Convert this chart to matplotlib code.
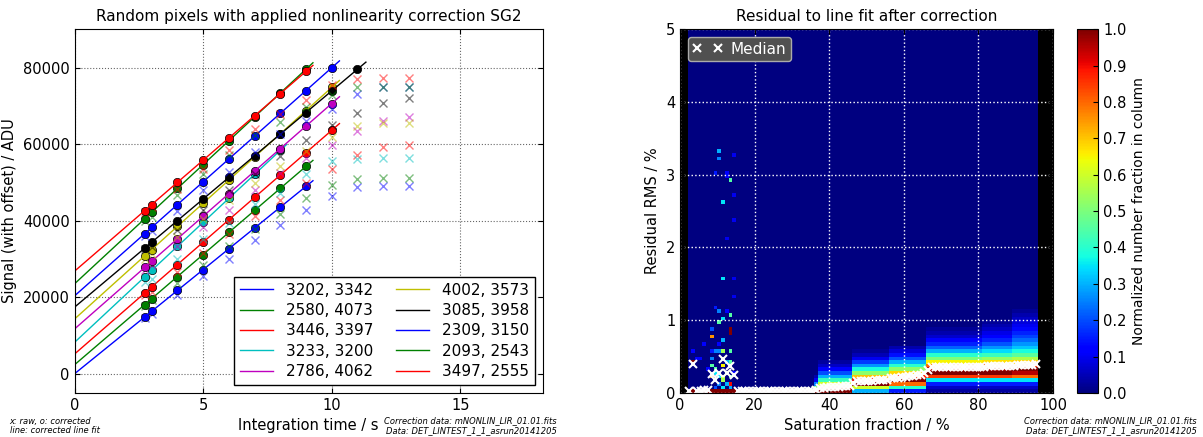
import numpy as np
import matplotlib
matplotlib.use('Agg')
import matplotlib.pyplot as plt

# ---------------- left panel: random pixels ----------------
times = [2.73, 3.0, 4, 5, 6, 7, 8, 9, 10, 11, 12, 13]
pixel_labels = ['3202, 3342', '2580, 4073', '3446, 3397', '3233, 3200', '2786, 4062',
                '4002, 3573', '3085, 3958', '2309, 3150', '2093, 2543', '3497, 2555']
pixel_colors = [(0, 0, 1), (0, 0.5, 0), (1, 0, 0), (0, 0.75, 0.75), (0.75, 0, 0.75),
                (0.75, 0.75, 0), (0, 0, 0), (0, 0, 1), (0, 0.5, 0), (1, 0, 0)]

# line fit of the corrected signal: offset and slope (ADU, ADU/s)
fit_offset = [0, 2350, 5150, 8200, 11700, 14300, 17400, 20350, 23500, 26800]
fit_slope = [5440, 5760, 5845, 6270, 5890, 6050, 5650, 5960, 6230, 5800]

corrected = [
    [14850, 16320, 21760, 27200, 32640, 38080, 43520, 48960],
    [18070, 19630, 25390, 31150, 36910, 42670, 48430, 54190],
    [21110, 22690, 28530, 34380, 40220, 46070, 51910, 57760, 63600],
    [25320, 27010, 33280, 39550, 45820, 52090, 58360],
    [27780, 29370, 35260, 41150, 47040, 52930, 58820, 64710, 70600],
    [30820, 32450, 38500, 44550, 50600, 56650, 62700, 68750, 74800],
    [32820, 34350, 40000, 45650, 51300, 56950, 62600, 68250, 73900, 79550],
    [36620, 38230, 44190, 50150, 56110, 62070, 68030, 73990, 79950],
    [40510, 42190, 48420, 54650, 60880, 67110, 73340, 79570],
    [42630, 44200, 50000, 55800, 61600, 67400, 73200, 79000],
]

raw = [
    [14600, 15700, 20650, 25450, 30070, 34860, 38780, 42880, 46360, 48800, 48980, 48980],
    [17700, 19200, 23800, 28300, 33500, 37700, 41800, 45800, 49400, 50950, 51060, 51060],
    [20480, 21350, 26580, 31630, 36600, 41130, 45490, 49850, 53510, 57050, 59200, 59800],
    [23960, 24840, 29890, 35290, 39390, 44440, 47230, 52200, 55600, 56150, 56290, 56290],
    [27020, 28300, 33290, 38340, 42880, 47930, 52500, 56400, 59870, 63500, 66100, 67010],
    [30060, 31200, 35730, 40520, 45300, 49850, 54200, 58200, 61780, 64850, 65500, 65550],
    [32500, 33100, 37470, 42700, 47930, 52290, 56910, 61170, 65000, 68100, 70770, 71980],
    [36000, 37300, 42530, 47930, 52720, 57950, 62750, 66140, 69300, 73100, 75000, 75000],
    [40000, 41000, 46620, 52290, 57080, 62310, 65800, 69800, 72800, 74900, 75000, 75000],
    [42200, 43500, 48370, 53590, 58390, 64050, 67800, 71500, 75550, 77100, 77300, 77300],
]

# ---------------- right panel: residual histogram ----------------
sat_bins = np.arange(0, 101, 1)        # saturation fraction / %
rms_bins = np.arange(0, 5.0001, 0.05)  # residual RMS / %

# column-normalised profiles (rows of 0.05 %) read per saturation range
profile_cols = [(2, 36), (36, 37), (37, 46), (46, 56), (56, 66), (66, 81), (81, 89), (89, 96)]
profiles = [
    [1.0],
    [1.0, 0.5, 0.25, 0.1, 0.04],
    [1.0, 0.85, 0.6, 0.42, 0.3, 0.2, 0.12, 0.06, 0.03],
    [0.3, 0.6, 1.0, 0.9, 0.7, 0.52, 0.38, 0.27, 0.18, 0.1, 0.05, 0.02],
    [0.15, 0.4, 0.8, 1.0, 0.88, 0.68, 0.52, 0.4, 0.3, 0.21, 0.14, 0.08, 0.04],
    [0.03, 0.06, 0.15, 0.35, 0.85, 1.0, 0.95, 0.8, 0.65, 0.5, 0.4, 0.3, 0.22, 0.16, 0.11,
     0.07, 0.04, 0.02],
    [0.03, 0.06, 0.15, 0.35, 0.85, 1.0, 0.97, 0.82, 0.67, 0.53, 0.42, 0.34, 0.27, 0.21, 0.16,
     0.12, 0.09, 0.06, 0.04, 0.02],
    [0.03, 0.06, 0.15, 0.35, 0.8, 0.95, 1.0, 0.85, 0.68, 0.56, 0.46, 0.38, 0.32, 0.27, 0.23,
     0.19, 0.16, 0.13, 0.1, 0.08, 0.06, 0.04, 0.02],
]

# isolated cells at low saturation: (column, row, value)
scatter_cells = [
    (10, 66, 0.3), (10, 64, 0.25), (14, 65, 0.1), (9, 60, 0.15), (12, 60, 0.12), (12, 59, 0.12),
    (13, 58, 0.45), (14, 54, 0.1), (11, 52, 0.35), (14, 47, 0.1), (12, 42, 0.1), (11, 31, 0.35),
    (14, 31, 0.1), (14, 26, 0.1), (9, 23, 0.15), (10, 22, 0.25), (12, 22, 0.12), (13, 21, 0.45),
    (11, 20, 0.35), (10, 19, 0.45), (13, 17, 1.0), (13, 16, 1.0), (8, 17, 0.2), (8, 15, 0.75),
    (11, 14, 0.3), (6, 13, 0.12), (10, 13, 0.12), (3, 11, 0.12), (8, 11, 0.15), (9, 11, 0.25),
    (10, 11, 0.25), (11, 11, 0.55), (13, 11, 0.45), (4, 9, 0.12), (5, 9, 0.12), (8, 9, 0.25),
    (3, 8, 1.0), (11, 7, 0.65), (8, 7, 0.45), (9, 6, 0.45), (7, 6, 0.12), (12, 8, 0.3),
    (13, 8, 0.45), (13, 7, 0.3), (8, 4, 0.75), (9, 5, 0.35), (10, 4, 0.35), (11, 4, 0.6),
    (12, 5, 0.3), (13, 4, 0.45), (14, 5, 0.12), (9, 3, 0.3), (10, 2, 0.25), (11, 3, 0.55),
    (13, 2, 0.9), (12, 2, 0.3), (9, 1, 0.2), (11, 1, 0.35), (13, 1, 0.3),
]

median_cols = np.arange(2, 96)
median_rms = [
    0.02, 0.40, 0.02, 0.03, 0.04, 0.04, 0.26, 0.18, 0.27, 0.46, 0.28, 0.37, 0.25,
    0.02, 0.02, 0.02, 0.02, 0.02, 0.02, 0.02, 0.02, 0.02, 0.02, 0.02, 0.02, 0.02,
    0.02, 0.02, 0.02, 0.02, 0.02, 0.02, 0.02, 0.02,
    0.04,
    0.07, 0.07, 0.08, 0.08, 0.08, 0.08, 0.09, 0.09, 0.09,
    0.13,
    0.17, 0.17, 0.17, 0.17, 0.17, 0.18, 0.18, 0.18, 0.18,
    0.20, 0.21, 0.21, 0.22, 0.22, 0.23, 0.23, 0.24,
    0.25, 0.28, 0.32, 0.35,
    0.35, 0.35, 0.36, 0.36, 0.36, 0.36, 0.36, 0.36, 0.36, 0.36, 0.36, 0.36, 0.36, 0.36,
    0.37, 0.37, 0.37, 0.37, 0.37, 0.37, 0.37, 0.37, 0.38, 0.38, 0.38, 0.38, 0.39, 0.40,
]

# ---------------- figure ----------------
fig = plt.figure(figsize=(12.03, 4.37), dpi=100)
ax1 = fig.add_axes([0.062, 0.101, 0.389, 0.832])
ax2 = fig.add_axes([0.5653, 0.101, 0.310, 0.832])
cax = fig.add_axes([0.8953, 0.101, 0.0175, 0.832])

for i in range(len(pixel_labels)):
    col = pixel_colors[i]
    ax1.plot(times, raw[i], 'x', color=col, alpha=0.5, ms=6, mew=1)
    t_corr = times[:len(corrected[i])]
    ax1.plot(t_corr, corrected[i], 'o', color=col, ms=6, mec='k', mew=0.5)
    t_line = np.array([0, t_corr[-1] * 1.03])
    ax1.plot(t_line, fit_offset[i] + fit_slope[i] * t_line, '-', color=col, lw=1,
             label=pixel_labels[i])

ax1.set_xlim(0, 18.2)
ax1.set_ylim(-5000, 90000)
ax1.set_xticks([0, 5, 10, 15])
ax1.set_yticks([0, 20000, 40000, 60000, 80000])
ax1.grid(color='k', linestyle=':', lw=0.8, alpha=0.6)
ax1.tick_params(direction='in', top=True, right=True, labelsize=10.5)
ax1.set_title('Random pixels with applied nonlinearity correction SG2', fontsize=11)
ax1.set_xlabel('Integration time / s', fontsize=10.5)
ax1.set_ylabel('Signal (with offset) / ADU', fontsize=10.5)
ax1.legend(loc='lower right', ncol=2, fontsize=11, fancybox=False, edgecolor='k',
           framealpha=1, handlelength=2.2, columnspacing=1.5, borderpad=0.4, labelspacing=0.35)

grid = np.full((len(rms_bins) - 1, len(sat_bins) - 1), np.nan)
for (c0, c1), prof in zip(profile_cols, profiles):
    for c in range(c0, c1):
        grid[:, c] = 0.0
        grid[:len(prof), c] = prof
for c, r, v in scatter_cells:
    grid[r, c] = v

ax2.set_facecolor('k')
mesh = ax2.pcolormesh(sat_bins, rms_bins, np.ma.masked_invalid(grid), cmap='jet',
                      vmin=0, vmax=1)
ax2.plot(median_cols + 0.5, median_rms, 'x', color='w', ms=5.5, mew=1.5, ls='none',
         label='Median')
ax2.set_xlim(0, 100)
ax2.set_ylim(0, 5)
ax2.set_xticks([0, 20, 40, 60, 80, 100])
ax2.set_yticks([0, 1, 2, 3, 4, 5])
ax2.grid(color='w', linestyle=':', lw=1)
ax2.tick_params(direction='in', top=True, right=True, labelsize=10.5)
ax2.set_title('Residual to line fit after correction', fontsize=11)
ax2.set_xlabel('Saturation fraction / %', fontsize=10.5)
ax2.set_ylabel('Residual RMS / %', fontsize=10.5)
leg = ax2.legend(loc='upper left', numpoints=2, fontsize=11, fancybox=True, framealpha=1,
                 borderpad=0.3, handletextpad=0.5)
leg.get_frame().set_facecolor('#505050')
leg.get_frame().set_edgecolor('#aaaaaa')
for txt in leg.get_texts():
    txt.set_color('w')

cb = fig.colorbar(mesh, cax=cax, ticks=np.arange(0, 1.01, 0.1))
cb.ax.tick_params(direction='in', labelsize=10.5)
cb.set_label('Normalized number fraction in column', fontsize=10)

fig.text(0.008, 0.004, 'x: raw, o: corrected\nline: corrected line fit', fontsize=6,
         style='italic', va='bottom', linespacing=1.1)
fig.text(0.463, 0.004, 'Correction data: mNONLIN_LIR_01.01.fits\nData: DET_LINTEST_1_1_asrun20141205',
         fontsize=6, style='italic', ha='right', va='bottom', linespacing=1.1)
fig.text(0.995, 0.004, 'Correction data: mNONLIN_LIR_01.01.fits\nData: DET_LINTEST_1_1_asrun20141205',
         fontsize=6, style='italic', ha='right', va='bottom', linespacing=1.1)

fig.savefig('out.png', dpi=100)
